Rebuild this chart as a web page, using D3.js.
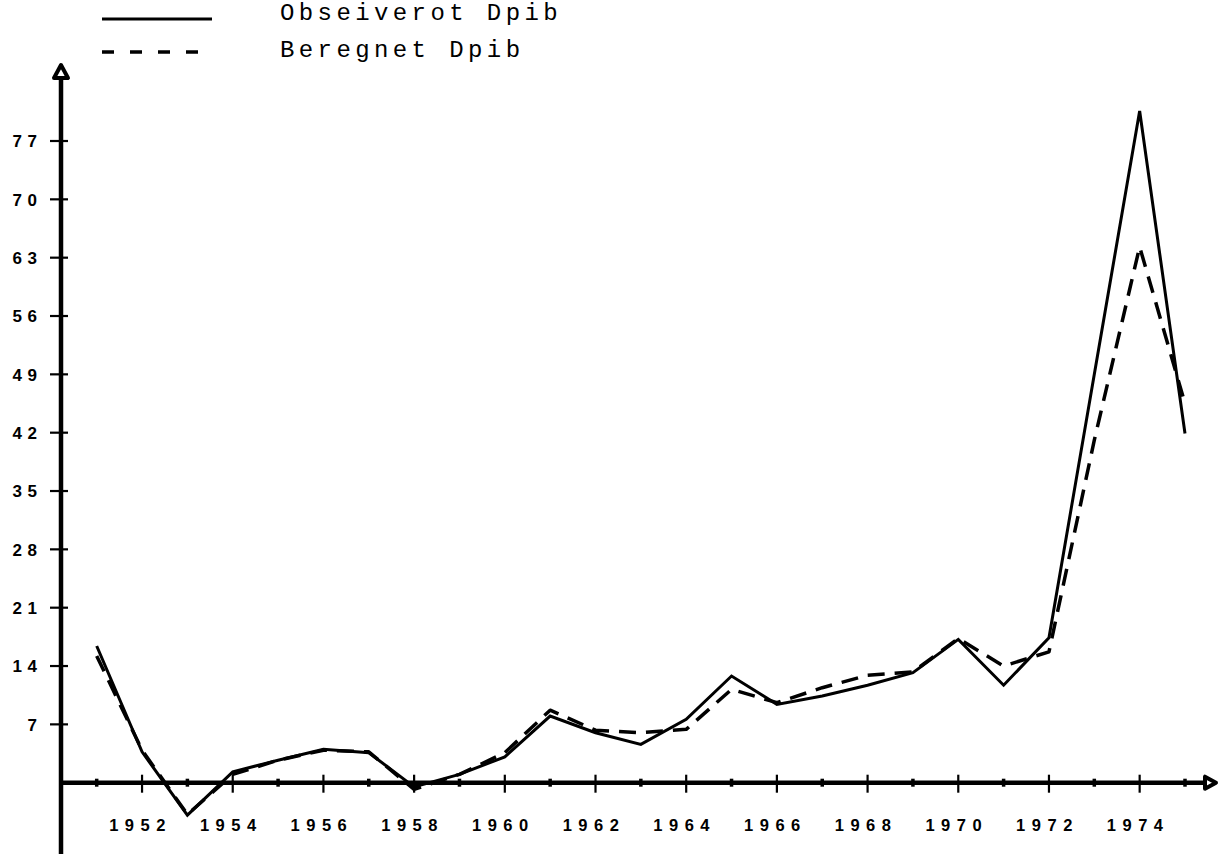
<!DOCTYPE html>
<html>
<head>
<meta charset="utf-8">
<script src="https://cdn.jsdelivr.net/npm/d3@7"></script>
<style>
  html, body { margin: 0; padding: 0; background: #fff; }
  svg { display: block; }
</style>
</head>
<body>
<svg id="chart" width="1219" height="854"></svg>
<script>
// ---- data ----
const years = [1951,1952,1953,1954,1955,1956,1957,1958,1959,1960,1961,1962,1963,1964,1965,1966,1967,1968,1969,1970,1971,1972,1973,1974,1975];
const observed = [16.4,3.7,-3.9,1.3,2.7,4.0,3.6,-0.5,1.0,3.1,8.0,6.0,4.6,7.6,12.8,9.4,10.4,11.7,13.2,17.2,11.7,17.4,49.0,80.6,41.9];
const computed = [15.2,3.9,-3.8,1.0,2.7,3.9,3.7,-0.8,1.0,3.6,8.7,6.3,6.0,6.4,11.2,9.6,11.4,12.9,13.3,17.3,14.0,15.7,41.1,64.3,45.5];
const yTicks = [7,14,21,28,35,42,49,56,63,70,77];
const xLabelYears = [1952,1954,1956,1958,1960,1962,1964,1966,1968,1970,1972,1974];
const xTickYears = [1951,1952,1953,1954,1955,1956,1957,1958,1959,1960,1961,1962,1963,1964,1965,1966,1967,1968,1969,1970,1971,1972,1973,1974,1975];
const legendLabels = ["Obseiverot Dpib", "Beregnet Dpib"];

// ---- scales ----
const svg = d3.select("#chart");
const x = d3.scaleLinear().domain([1951, 1975]).range([96.7, 1185]);
const y = d3.scaleLinear().domain([0, 77]).range([782.7, 141]);
const axisX = 61;
const axisY = y(0);

// ---- axes lines ----
svg.append("line").attr("x1", axisX).attr("x2", axisX).attr("y1", 70).attr("y2", 854)
  .attr("stroke", "#000").attr("stroke-width", 4.5);
svg.append("line").attr("x1", axisX).attr("x2", 1208).attr("y1", axisY).attr("y2", axisY)
  .attr("stroke", "#000").attr("stroke-width", 4.5);

// arrow heads
svg.append("path")
  .attr("d", `M${axisX},65 L${axisX+7},78 L${axisX-7},78 Z`)
  .attr("fill", "#fff").attr("stroke", "#000").attr("stroke-width", 4).attr("stroke-linejoin", "round");
svg.append("path")
  .attr("d", `M1216,${axisY} L1205,${axisY-6} L1205,${axisY+6} Z`)
  .attr("fill", "#fff").attr("stroke", "#000").attr("stroke-width", 4).attr("stroke-linejoin", "round");

// y ticks + labels (via d3 axis for labels)
const yAxis = d3.axisLeft(y).tickValues(yTicks).tickSize(0).tickPadding(0).tickFormat(d3.format("d"));
const gy = svg.append("g").attr("transform", `translate(${axisX - 24},0)`).call(yAxis);
gy.select(".domain").remove();
gy.selectAll("text")
  .attr("font-family", "'Liberation Sans', Arial, sans-serif")
  .attr("font-weight", "bold").attr("font-size", 17)
  .attr("letter-spacing", "5.5px").attr("dx", 5.5).attr("dy", "0.34em").attr("fill", "#000");

svg.append("g").selectAll("line").data(yTicks).join("line")
  .attr("x1", axisX - 11).attr("x2", axisX + 7)
  .attr("y1", d => y(d)).attr("y2", d => y(d))
  .attr("stroke", "#000").attr("stroke-width", 2.2);

// x ticks
svg.append("g").selectAll("line").data(xTickYears).join("line")
  .attr("x1", d => x(d)).attr("x2", d => x(d))
  .attr("y1", d => d % 2 === 0 ? axisY - 8 : axisY - 4)
  .attr("y2", d => d % 2 === 0 ? axisY + 10 : axisY + 4)
  .attr("stroke", "#000").attr("stroke-width", d => d % 2 === 0 ? 2.2 : 3.5);

// x labels
const xAxis = d3.axisBottom(x).tickValues(xLabelYears).tickSize(0).tickPadding(0).tickFormat(d3.format("d"));
const gx = svg.append("g").attr("transform", `translate(0,${axisY + 48})`).call(xAxis);
gx.select(".domain").remove();
gx.selectAll("text")
  .attr("font-family", "'Liberation Sans', Arial, sans-serif")
  .attr("font-weight", "bold").attr("font-size", 16.5)
  .attr("letter-spacing", "6.5px").attr("dx", -2).attr("dy", 0).attr("fill", "#000");

// ---- series ----
const line = d3.line().x((d, i) => x(years[i])).y(d => y(d));
svg.append("path").datum(computed).attr("d", line)
  .attr("fill", "none").attr("stroke", "#000").attr("stroke-width", 3.5)
  .attr("stroke-dasharray", "17,10").attr("stroke-linejoin", "round");
svg.append("path").datum(observed).attr("d", line)
  .attr("fill", "none").attr("stroke", "#000").attr("stroke-width", 3)
  .attr("stroke-linejoin", "miter");

// ---- legend ----
const legend = svg.append("g");
legend.append("line").attr("x1", 102).attr("x2", 212).attr("y1", 19).attr("y2", 19)
  .attr("stroke", "#000").attr("stroke-width", 3);
legend.append("line").attr("x1", 102).attr("x2", 212).attr("y1", 52).attr("y2", 52)
  .attr("stroke", "#000").attr("stroke-width", 3.5).attr("stroke-dasharray", "12,16");
legend.selectAll("text").data(legendLabels).join("text")
  .attr("x", 280).attr("y", (d, i) => 20 + i * 37)
  .attr("font-family", "'Liberation Mono', 'Courier New', monospace")
  .attr("font-size", 24).attr("letter-spacing", "4.4px").attr("fill", "#000")
  .text(d => d);
</script>
</body>
</html>
